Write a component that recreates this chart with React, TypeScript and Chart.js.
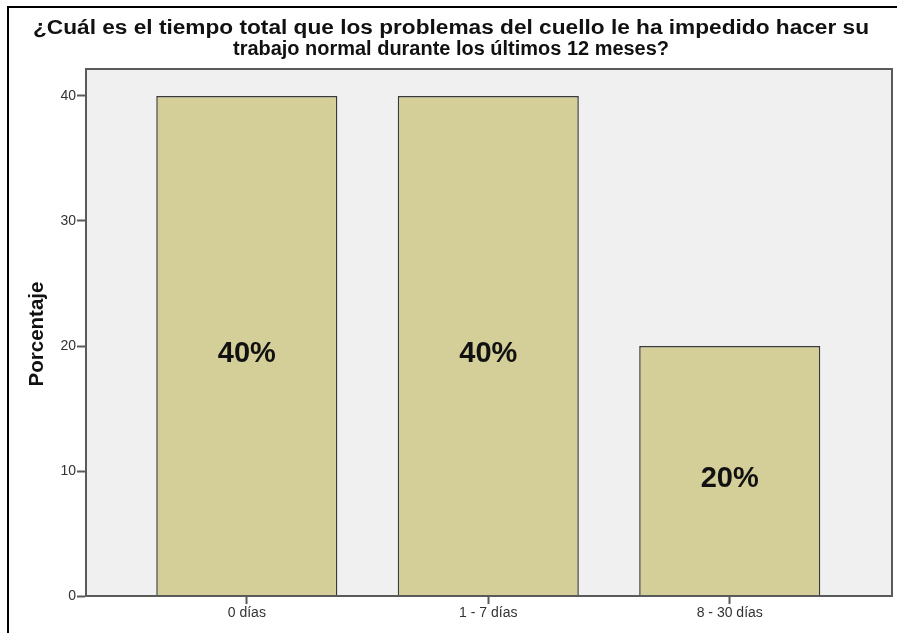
import React, { useEffect, useRef } from "react";
import { Chart, registerables } from "chart.js";

Chart.register(...registerables);

const categories = ["0 días", "1 - 7 días", "8 - 30 días"];
const percentages = [40, 40, 20];
const barLabels = ["40%", "40%", "20%"];
const yTicks = [0, 10, 20, 30, 40];
const titleLines = [
  "¿Cuál es el tiempo total que los problemas del cuello le ha impedido hacer su",
  "trabajo normal durante los últimos 12 meses?",
];
const yAxisTitle = "Porcentaje";

const FONT = "Arial, 'Liberation Sans', sans-serif";

export default function App() {
  const ref = useRef<HTMLCanvasElement | null>(null);

  useEffect(() => {
    const canvas = ref.current;
    if (!canvas) return;

    const decor = {
      id: "decor",
      beforeDraw(chart: any) {
        const { ctx, chartArea: a } = chart;
        ctx.save();
        ctx.fillStyle = "#ffffff";
        ctx.fillRect(0, 0, chart.width, chart.height);
        // outer black frame (left and top)
        ctx.strokeStyle = "#000000";
        ctx.lineWidth = 2;
        ctx.beginPath();
        ctx.moveTo(8, chart.height);
        ctx.lineTo(8, 7);
        ctx.lineTo(chart.width, 7);
        ctx.stroke();
        // plot background
        ctx.fillStyle = "#f0f0f0";
        ctx.fillRect(a.left, a.top, a.right - a.left, a.bottom - a.top);
        // title
        ctx.fillStyle = "#111111";
        ctx.font = `bold 20px ${FONT}`;
        ctx.textAlign = "center";
        ctx.textBaseline = "alphabetic";
        const targetWidths = [836, 436];
        const cx = 451;
        const baselines = [34, 55];
        titleLines.forEach((line, i) => {
          const w = ctx.measureText(line).width;
          ctx.save();
          ctx.translate(cx, baselines[i]);
          ctx.scale(targetWidths[i] / w, 1);
          ctx.fillText(line, 0, 0);
          ctx.restore();
        });
        // y axis title
        ctx.save();
        ctx.font = `bold 20px ${FONT}`;
        const wy = ctx.measureText(yAxisTitle).width;
        ctx.translate(43, 334);
        ctx.rotate(-Math.PI / 2);
        ctx.scale(105 / wy, 1);
        ctx.textAlign = "center";
        ctx.fillText(yAxisTitle, 0, 0);
        ctx.restore();
        ctx.restore();
      },
      afterDraw(chart: any) {
        const { ctx, chartArea: a } = chart;
        ctx.save();
        // plot frame
        ctx.strokeStyle = "#5a5a5a";
        ctx.lineWidth = 2;
        ctx.strokeRect(a.left, a.top, a.right - a.left, a.bottom - a.top);
        // bar labels
        const meta = chart.getDatasetMeta(0);
        ctx.fillStyle = "#111111";
        ctx.font = `bold 29px ${FONT}`;
        ctx.textAlign = "center";
        ctx.textBaseline = "middle";
        meta.data.forEach((bar: any, i: number) => {
          const mid = (bar.y + bar.base) / 2;
          ctx.fillText(barLabels[i], bar.x, mid + 8);
        });
        ctx.restore();
      },
    };

    const chart = new Chart(canvas, {
      type: "bar",
      data: {
        datasets: [
          {
            data: percentages.map((v, i) => ({ x: i, y: v })),
            backgroundColor: "#d4cf98",
            borderColor: "#3a3a3a",
            borderWidth: 1.5,
            barPercentage: 0.75,
            categoryPercentage: 1,
          },
        ],
      },
      options: {
        responsive: false,
        animation: false,
        devicePixelRatio: 1,
        layout: { padding: { left: 0, top: 69, right: 5, bottom: 0 } },
        plugins: {
          legend: { display: false },
          tooltip: { enabled: false },
          title: { display: false },
        },
        scales: {
          x: {
            type: "linear",
            offset: false,
            min: -0.666,
            max: 2.672,
            afterBuildTicks: (scale: any) => {
              scale.ticks = categories.map((_, i) => ({ value: i }));
            },
            afterFit: (scale: any) => {
              scale.height = 37;
            },
            ticks: {
              callback: (v: any) => categories[Math.round(Number(v))] ?? "",
              color: "#333333",
              font: { family: FONT, size: 14 },
              padding: 1,
              maxRotation: 0,
              autoSkip: false,
            },
            grid: {
              offset: false,
              drawOnChartArea: false,
              drawTicks: true,
              tickLength: 8,
              tickWidth: 2,
              tickColor: "#5a5a5a",
            },
            border: { display: true, color: "#5a5a5a", width: 2 },
          },
          y: {
            min: 0,
            max: 42.16,
            afterBuildTicks: (scale: any) => {
              scale.ticks = yTicks.map((v) => ({ value: v }));
            },
            afterFit: (scale: any) => {
              scale.width = 86;
            },
            ticks: {
              color: "#333333",
              font: { family: FONT, size: 14 },
              padding: 1,
            },
            grid: {
              drawOnChartArea: false,
              drawTicks: true,
              tickLength: 9,
              tickWidth: 2,
              tickColor: "#5a5a5a",
            },
            border: { display: true, color: "#5a5a5a", width: 2 },
          },
        },
      },
      plugins: [decor],
    } as any);

    return () => chart.destroy();
  }, []);

  return (
    <div style={{ position: "absolute", left: 0, top: 0, width: 897, height: 633, overflow: "hidden", background: "#fff" }}>
      <canvas ref={ref} width={897} height={633} style={{ display: "block", width: 897, height: 633 }} />
    </div>
  );
}
